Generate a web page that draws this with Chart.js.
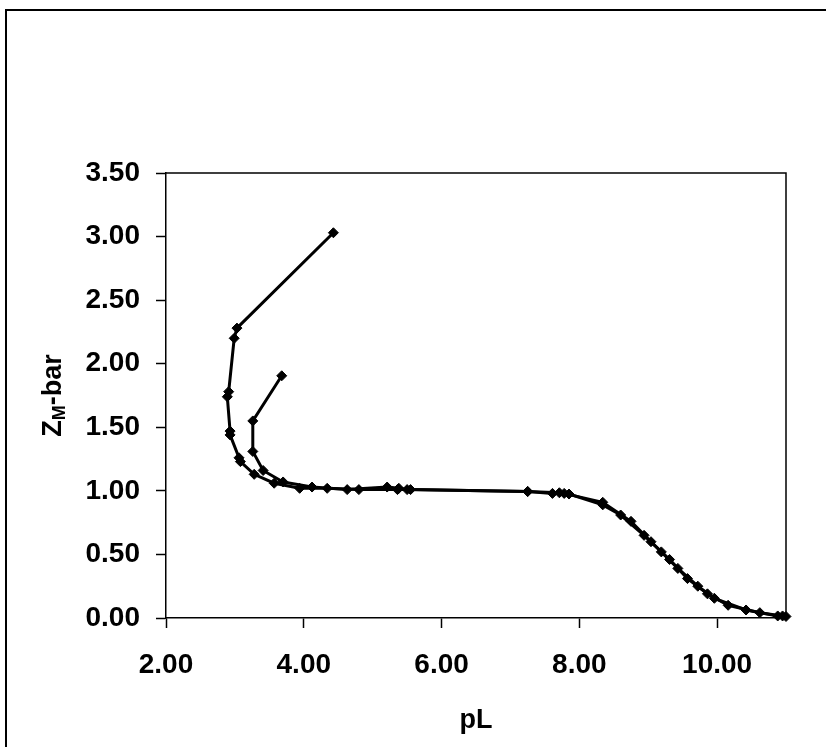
<!DOCTYPE html>
<html><head><meta charset="utf-8">
<script src="https://cdn.jsdelivr.net/npm/chart.js@4.4.0/dist/chart.umd.min.js"></script>
<style>html,body{margin:0;padding:0;background:#fff;overflow:hidden}#wrap{position:absolute;left:0;top:0;width:826px;height:747px}</style>
</head><body><div id="wrap"><canvas id="c" width="826" height="747"></canvas></div>
<script>
// Series starting at high Z (pL ~4.4)
const seriesA_pL = [4.43, 3.03, 2.99, 2.91, 2.89, 2.93, 2.93, 3.06, 3.08, 3.28, 3.57, 3.94, 4.34, 4.80, 5.36, 5.55, 7.25, 7.71, 7.85, 8.34, 8.60, 8.94, 9.19, 9.43, 9.72, 9.96, 10.42, 10.88, 11.00];
const seriesA_Z  = [3.03, 2.28, 2.20, 1.78, 1.74, 1.47, 1.44, 1.26, 1.23, 1.13, 1.06, 1.02, 1.02, 1.01, 1.01, 1.01, 0.995, 0.985, 0.975, 0.89, 0.81, 0.65, 0.52, 0.39, 0.25, 0.155, 0.063, 0.016, 0.012];
// Series starting at lower Z (pL ~3.7)
const seriesB_pL = [3.68, 3.26, 3.26, 3.41, 3.70, 4.12, 4.63, 5.21, 5.38, 5.50, 7.25, 7.61, 7.78, 8.34, 8.75, 9.04, 9.31, 9.57, 9.86, 10.16, 10.62, 10.95];
const seriesB_Z  = [1.905, 1.55, 1.31, 1.16, 1.07, 1.03, 1.01, 1.03, 1.02, 1.01, 0.995, 0.98, 0.98, 0.91, 0.76, 0.60, 0.46, 0.31, 0.19, 0.10, 0.042, 0.016];
const xTicks = [2, 4, 6, 8, 10];
const yTicks = [0, 0.5, 1, 1.5, 2, 2.5, 3, 3.5];

const toPts = (xs, ys) => xs.map((x, i) => ({x: x, y: ys[i]}));
const FONT = "'Liberation Sans', Arial, sans-serif";

const framePlugin = {
  id: 'frame',
  beforeDraw(chart) {
    const ctx = chart.ctx;
    ctx.save();
    ctx.fillStyle = '#fff';
    ctx.fillRect(0, 0, chart.width, chart.height);
    ctx.strokeStyle = '#000';
    ctx.lineWidth = 2;
    ctx.strokeRect(6, 10, 1000, 1000);
    ctx.restore();
  },
  afterDraw(chart) {
    const a = chart.chartArea, ctx = chart.ctx;
    ctx.save();
    ctx.strokeStyle = '#000';
    ctx.lineWidth = 1.5;
    ctx.beginPath();
    ctx.moveTo(a.left, a.top); ctx.lineTo(a.right, a.top); ctx.lineTo(a.right, a.bottom);
    ctx.stroke();
    // y axis title with subscript
    ctx.translate(54, (a.top + a.bottom) / 2);
    ctx.rotate(-Math.PI / 2);
    ctx.fillStyle = '#000';
    ctx.textBaseline = 'middle';
    const big = 'bold 27px ' + FONT, small = 'bold 18px ' + FONT;
    ctx.font = big; const w1 = ctx.measureText('Z').width; const w3 = ctx.measureText('-bar').width;
    ctx.font = small; const w2 = ctx.measureText('M').width;
    let x = -(w1 + w2 + w3) / 2;
    ctx.font = big; ctx.textAlign = 'left'; ctx.fillText('Z', x, 0); x += w1;
    ctx.font = small; ctx.fillText('M', x, 6); x += w2;
    ctx.font = big; ctx.fillText('-bar', x, 0);
    ctx.restore();
  }
};

const common = {
  showLine: true, borderColor: '#000', backgroundColor: '#000', borderWidth: 3,
  pointStyle: 'rectRot', pointRadius: 5, pointBorderWidth: 1, pointBorderColor: '#000', pointBackgroundColor: '#000',
  tension: 0, clip: false
};

new Chart(document.getElementById('c'), {
  type: 'scatter',
  data: {
    datasets: [
      Object.assign({label: 'A', data: toPts(seriesA_pL, seriesA_Z)}, common),
      Object.assign({label: 'B', data: toPts(seriesB_pL, seriesB_Z)}, common)
    ]
  },
  options: {
    responsive: false, animation: false,
    layout: {padding: {top: 173, right: 40, left: 0, bottom: 0}},
    plugins: {legend: {display: false}, tooltip: {enabled: false}},
    scales: {
      x: {
        type: 'linear', min: 2, max: 11,
        afterBuildTicks: s => { s.ticks = xTicks.map(v => ({value: v})); },
        afterFit: s => { s.height = 129; },
        ticks: {color: '#000', font: {family: FONT, size: 28, weight: 'bold'}, padding: 20, maxRotation: 0,
                callback: v => Number(v).toFixed(2)},
        grid: {drawOnChartArea: false, drawTicks: true, tickLength: 10, tickColor: '#000', tickWidth: 1.5},
        border: {display: true, color: '#000', width: 1.5},
        title: {display: true, text: 'pL', color: '#000', font: {family: FONT, size: 27, weight: 'bold'}, padding: {top: 0, bottom: 10}}
      },
      y: {
        type: 'linear', min: 0, max: 3.5,
        afterBuildTicks: s => { s.ticks = yTicks.map(v => ({value: v})); },
        afterFit: s => { s.width = 166; },
        ticks: {color: '#000', font: {family: FONT, size: 28, weight: 'bold'}, padding: 16,
                callback: v => Number(v).toFixed(2)},
        grid: {drawOnChartArea: false, drawTicks: true, tickLength: 10, tickColor: '#000', tickWidth: 1.5},
        border: {display: true, color: '#000', width: 1.5}
      }
    }
  },
  plugins: [framePlugin]
});
</script></body></html>
